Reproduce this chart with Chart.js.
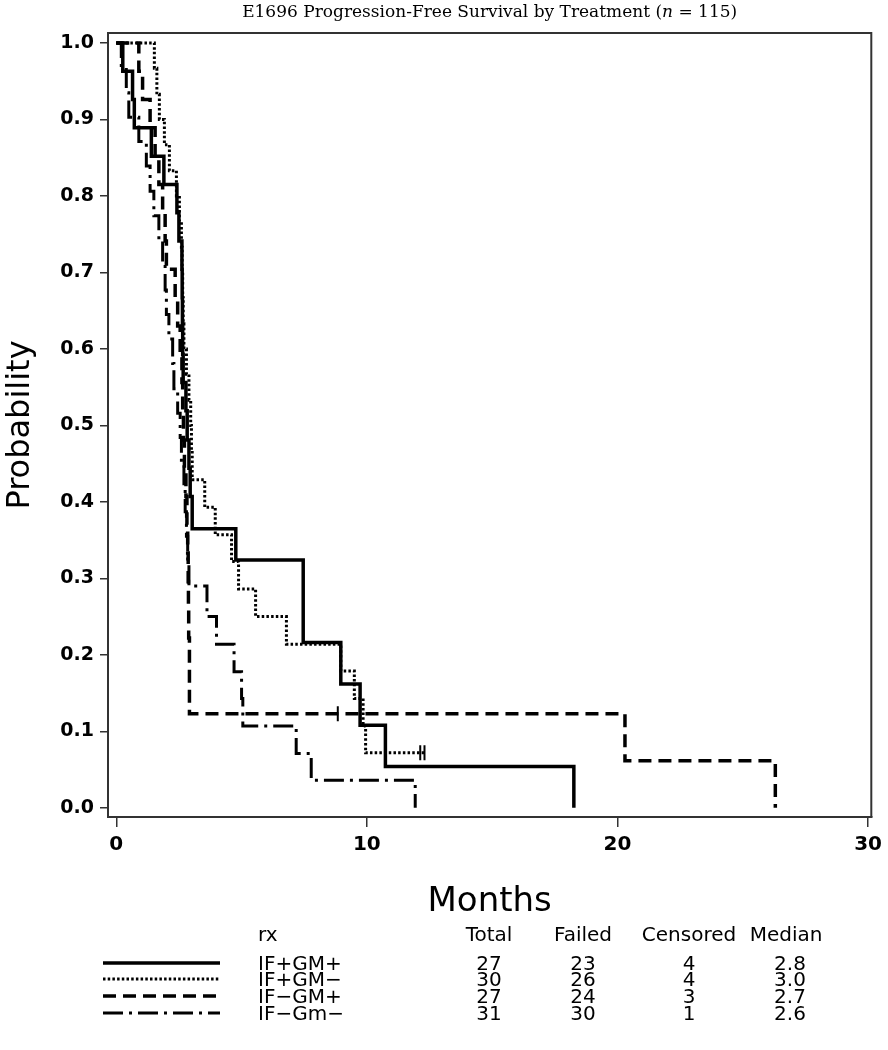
<!DOCTYPE html>
<html><head><meta charset="utf-8">
<script src="https://cdn.jsdelivr.net/npm/chart.js@4.4.0/dist/chart.umd.min.js"></script>
<style>html,body{margin:0;padding:0;background:#fff}#wrap{width:888px;height:1050px;position:relative}</style>
</head><body><div id="wrap"><canvas id="c" width="888" height="1050"></canvas></div>
<script>
// ---------- data ----------
const titleParts = ['E1696 Progression-Free Survival by Treatment (', 'n', ' = 115)'];
const xTickValues = [0, 10, 20, 30];
const yTickValues = [0, 0.1, 0.2, 0.3, 0.4, 0.5, 0.6, 0.7, 0.8, 0.9, 1.0];
const xTitle = 'Months';
const yTitle = 'Probability';

const seriesNames = ['IF+GM+', 'IF+GM\u2212', 'IF\u2212GM+', 'IF\u2212Gm\u2212'];
const tableHeader = ['rx', 'Total', 'Failed', 'Censored', 'Median'];
const totals = [27, 30, 27, 31];
const failed = [23, 26, 24, 30];
const censored = [4, 4, 3, 1];
const medians = ['2.8', '3.0', '2.7', '2.6'];

// IF+GM+ (solid)
const ppTime = [0, 0.26, 0.65, 0.72, 1.40, 1.90, 2.42, 2.50, 2.62, 2.63, 2.64, 2.65, 2.67, 2.78, 2.83, 2.90, 2.95, 3.03, 4.77, 7.46, 8.96, 9.73, 10.74, 18.26];
const ppSurv = [1, 0.963, 0.926, 0.889, 0.852, 0.815, 0.778, 0.741, 0.704, 0.667, 0.630, 0.593, 0.556, 0.519, 0.481, 0.444, 0.407, 0.365, 0.324, 0.216, 0.162, 0.108, 0.054, 0];
// IF+GM- (dotted)
const pmTime = [0, 1.52, 1.62, 1.72, 1.92, 2.12, 2.40, 2.52, 2.60, 2.63, 2.65, 2.67, 2.70, 2.80, 2.90, 2.97, 3.00, 3.03, 3.53, 3.95, 4.60, 4.88, 5.56, 6.79, 8.96, 9.50, 9.85, 9.95, 12.33];
const pmSurv = [1, 0.967, 0.933, 0.900, 0.867, 0.833, 0.800, 0.767, 0.733, 0.700, 0.667, 0.633, 0.600, 0.567, 0.533, 0.500, 0.467, 0.429, 0.393, 0.357, 0.322, 0.286, 0.250, 0.214, 0.179, 0.143, 0.107, 0.072, 0.072];
// IF-GM+ (dashed)
const mpTime = [0, 0.90, 1.05, 1.35, 1.55, 1.70, 1.85, 1.95, 2.00, 2.35, 2.45, 2.55, 2.62, 2.65, 2.68, 2.72, 2.78, 2.82, 2.85, 2.87, 2.88, 2.89, 2.92, 20.30, 26.30];
const mpSurv = [1, 0.963, 0.926, 0.889, 0.852, 0.815, 0.778, 0.741, 0.704, 0.667, 0.630, 0.593, 0.556, 0.519, 0.481, 0.444, 0.407, 0.370, 0.333, 0.296, 0.259, 0.222, 0.123, 0.0615, 0];
// IF-Gm- (dash-dot)
const mmTime = [0, 0.20, 0.40, 0.50, 0.90, 1.20, 1.35, 1.50, 1.70, 1.85, 1.95, 2.00, 2.10, 2.25, 2.30, 2.45, 2.55, 2.60, 2.70, 2.75, 2.80, 2.85, 2.90, 3.62, 4.00, 4.70, 5.00, 5.05, 7.18, 7.78, 11.93];
const mmSurv = [1, 0.968, 0.935, 0.903, 0.871, 0.839, 0.806, 0.774, 0.742, 0.710, 0.677, 0.645, 0.613, 0.581, 0.548, 0.516, 0.484, 0.452, 0.419, 0.387, 0.355, 0.323, 0.290, 0.250, 0.214, 0.178, 0.143, 0.107, 0.071, 0.036, 0];

// censoring marks
const mpCensorTime = [8.84];
const mpCensorSurv = [0.123];
const pmCensorTime = [12.13, 12.30];
const pmCensorSurv = [0.072, 0.072];

// ---------- helpers ----------
const pts = (t, s) => t.map((v, i) => ({x: v, y: s[i]}));
const dashes = [[], [2.5, 2.2], [13, 7], [20, 6, 3, 6]];
const widths = [3.5, 3, 3.5, 3];

const baseLine = (data, i) => ({
  data, borderColor: '#000', borderWidth: widths[i], borderDash: dashes[i],
  borderCapStyle: 'butt', stepped: true, pointRadius: 0, fill: false, tension: 0
});
const censorSet = (data) => ({
  data, showLine: false, pointStyle: 'line', pointRotation: 90, pointRadius: 7.5,
  pointBorderWidth: 2, pointBorderColor: '#000', borderColor: '#000', pointBackgroundColor: '#000'
});

const sansFont = 'DejaVu Sans';

const decoPlugin = {
  id: 'deco',
  afterDraw(chart) {
    const ctx = chart.ctx, a = chart.chartArea;
    ctx.save();
    // frame top & right
    ctx.strokeStyle = '#333'; ctx.lineWidth = 2;
    ctx.beginPath();
    ctx.moveTo(a.left, a.top); ctx.lineTo(a.right, a.top); ctx.lineTo(a.right, a.bottom);
    ctx.stroke();
    // title (with italic n)
    ctx.fillStyle = '#000';
    ctx.textBaseline = 'middle';
    const fonts = ['17px "DejaVu Serif"', 'italic 17px "DejaVu Serif"', '17px "DejaVu Serif"'];
    let tw = 0; const ws = [];
    titleParts.forEach((p, i) => { ctx.font = fonts[i]; const w = ctx.measureText(p).width; ws.push(w); tw += w; });
    let x = (a.left + a.right) / 2 - tw / 2;
    ctx.textAlign = 'left';
    titleParts.forEach((p, i) => { ctx.font = fonts[i]; ctx.fillText(p, x, 13); x += ws[i]; });
    // table
    ctx.font = '20px "' + sansFont + '"';
    const colX = [258, 489, 583, 689, 786];
    const headY = 936, rowY = [965, 981, 998, 1015];
    ctx.textAlign = 'left'; ctx.fillText(tableHeader[0], colX[0], headY);
    ctx.textAlign = 'center';
    for (let c = 1; c < 5; c++) ctx.fillText(tableHeader[c], colX[c], headY);
    for (let r = 0; r < seriesNames.length; r++) {
      const y = rowY[r];
      ctx.textAlign = 'left'; ctx.fillText(seriesNames[r], colX[0], y);
      ctx.textAlign = 'center';
      ctx.fillText(String(totals[r]), colX[1], y);
      ctx.fillText(String(failed[r]), colX[2], y);
      ctx.fillText(String(censored[r]), colX[3], y);
      ctx.fillText(medians[r], colX[4] + 4, y);
      // line sample
      ctx.beginPath();
      ctx.setLineDash(dashes[r]);
      ctx.lineDashOffset = 0;
      ctx.lineWidth = widths[r]; ctx.strokeStyle = '#000'; ctx.lineCap = 'butt';
      ctx.moveTo(103, y - 2); ctx.lineTo(220, y - 2); ctx.stroke();
    }
    ctx.restore();
  }
};

new Chart(document.getElementById('c'), {
  type: 'line',
  data: {
    datasets: [
      baseLine(pts(ppTime, ppSurv), 0),
      baseLine(pts(pmTime, pmSurv), 1),
      baseLine(pts(mpTime, mpSurv), 2),
      baseLine(pts(mmTime, mmSurv), 3),
      censorSet(pts(mpCensorTime, mpCensorSurv)),
      censorSet(pts(pmCensorTime, pmCensorSurv))
    ]
  },
  options: {
    responsive: false, animation: false, devicePixelRatio: 1,
    layout: {padding: {left: 0, top: 33, right: 10, bottom: 0}},
    plugins: {legend: {display: false}, tooltip: {enabled: false}},
    scales: {
      x: {
        type: 'linear', min: -0.33, max: 30.13,
        afterBuildTicks: s => { s.ticks = xTickValues.map(v => ({value: v})); },
        afterFit: s => { s.height = 233; },
        ticks: {font: {family: sansFont, size: 20, weight: 'bold'}, color: '#000', padding: 6, maxRotation: 0, autoSkip: false},
        grid: {drawOnChartArea: false, drawTicks: true, tickLength: 10, color: '#333', lineWidth: 1.5},
        border: {display: true, color: '#333', width: 2},
        title: {display: true, text: xTitle, font: {family: sansFont, size: 34}, color: '#000', padding: {top: 0, bottom: 127}}
      },
      y: {
        type: 'linear', min: -0.012, max: 1.013,
        afterBuildTicks: s => { s.ticks = yTickValues.map(v => ({value: v})); },
        afterFit: s => { s.width = 108; },
        ticks: {font: {family: sansFont, size: 19, weight: 'bold'}, color: '#000', padding: 6, callback: v => Number(v).toFixed(1), autoSkip: false},
        grid: {drawOnChartArea: false, drawTicks: true, tickLength: 8, color: '#333', lineWidth: 1.5},
        border: {display: true, color: '#333', width: 2},
        title: {display: true, text: yTitle, font: {family: sansFont, size: 32}, color: '#000', padding: {top: 1, bottom: 0}}
      }
    }
  },
  plugins: [decoPlugin]
});
</script></body></html>
